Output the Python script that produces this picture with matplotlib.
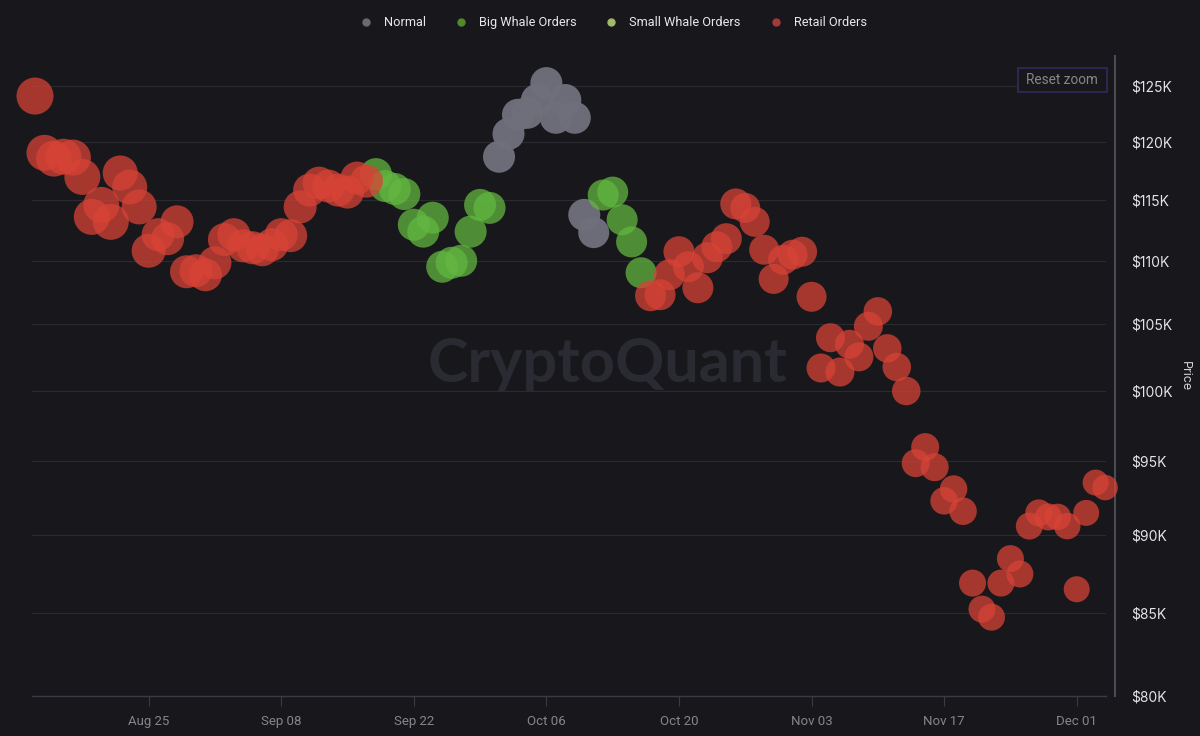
import matplotlib
matplotlib.use("Agg")
import matplotlib.pyplot as plt
import matplotlib.dates as mdates
import numpy as np
import pandas as pd
from matplotlib.patches import FancyBboxPatch

plt.rcParams["font.family"] = ["Inter", "DejaVu Sans"]

bg = "#18181c"

dates = pd.date_range("2025-08-13", periods=114, freq="D")

price = [
    124090, 119040, 118540, 118700, 118630, 116960, 113590, 114590, 113180, 117300,
    116100, 114420, 110810, 112120, 111790, 113180, 109120, 109200, 108880, 109840,
    111720, 112120, 111210, 111050, 110890, 111300, 112120, 112040, 114420, 115840,
    116430, 116180, 115840, 115670, 116860, 116600, 117200, 116180, 115930, 115500,
    112940, 112370, 113520, 109520, 109840, 110000, 112370, 114590, 114340, 118700,
    120700, 122400, 122580, 123730, 125270, 122130, 123730, 122130, 113760, 112290,
    115420, 115670, 113350, 111530, 109040, 107220, 107300, 108880, 110730, 109520,
    107850, 110240, 111130, 111790, 114670, 114340, 113180, 110890, 108550, 110080,
    110490, 110730, 107140, 101700, 103980, 101400, 103480, 102530, 104850, 106000,
    103170, 101770, 100000, 94860, 95980, 94580, 92280, 93080, 91580, 86890,
    85250, 84750, 86890, 88460, 87470, 90590, 91470, 91200, 91200, 90590,
    86500, 91470, 93520, 93180,
]

bubble = [
    37, 36, 36, 36, 36, 36, 36, 36, 36, 35,
    35, 35, 34, 33, 33, 33, 33, 33, 33, 33,
    33, 33, 33, 33, 33, 33, 33, 33, 33, 33,
    33, 33, 33, 33, 33, 33, 32, 32, 32, 32,
    32, 32, 32, 32, 32, 32, 32, 32, 32, 32,
    32, 32, 32, 32, 32, 32, 32, 32, 32, 31,
    31, 31, 31, 31, 31, 31, 31, 31, 31, 31,
    31, 31, 31, 31, 31, 30, 30, 30, 30, 30,
    30, 30, 30, 29, 29, 29, 29, 29, 29, 28.5,
    28.5, 28.5, 28.5, 28, 28, 28, 27.5, 27.5, 27.5, 27,
    27, 27, 27, 27, 27, 27, 27, 27, 26.5, 26.5,
    26, 26, 26, 25.5,
]

order_type = ["Retail Orders"] * 36 + ["Big Whale Orders"] * 13 + ["Normal"] * 11 \
    + ["Big Whale Orders"] * 5 + ["Retail Orders"] * 49

legend_names = ["Normal", "Big Whale Orders", "Small Whale Orders", "Retail Orders"]
point_colors = ["#70707d", "#62b740", "#a6bd6e", "#d84236"]
point_alpha = [0.97, 0.74, 0.74, 0.74]
legend_colors = ["#6a6a70", "#4f8a2d", "#a3b86c", "#a8383a"]

price_ticks = [80000, 85000, 90000, 95000, 100000, 105000, 110000, 115000, 120000, 125000]
date_ticks = ["2025-08-25", "2025-09-08", "2025-09-22", "2025-10-06", "2025-10-20",
              "2025-11-03", "2025-11-17", "2025-12-01"]

fig = plt.figure(figsize=(12, 7.36), dpi=100, facecolor=bg)
ax = fig.add_axes([32 / 1200, 1 - 696 / 736, (1106 - 32) / 1200, (696 - 56) / 736], facecolor=bg)

df = pd.DataFrame({"date": dates, "price": price, "bubble": bubble, "type": order_type})

for name, col, alpha in zip(legend_names, point_colors, point_alpha):
    part = df[df["type"] == name]
    # bubble is the diameter in px, scatter wants points^2
    ax.scatter(part["date"], part["price"], s=(part["bubble"] * 0.72) ** 2, color=col,
               alpha=alpha, linewidths=0, clip_on=False, zorder=3)

ax.set_yscale("log")
ax.set_ylim(80000, 127780)
x0 = mdates.date2num(dates[0])
ax.set_xlim(x0 - 3 / 9.47, x0 + 1071 / 9.47)

ax.set_yticks(price_ticks)
ax.set_yticklabels(["$" + str(p // 1000) + "K" for p in price_ticks])
ax.minorticks_off()
ax.yaxis.tick_right()
ax.tick_params(axis="y", length=0, pad=11.5, labelsize=10, labelcolor="#e4e4e6")
ax.set_xticks(pd.to_datetime(date_ticks))
ax.set_xticklabels([pd.Timestamp(d).strftime("%b %d") for d in date_ticks], family="Roboto")
ax.tick_params(axis="x", length=7, width=0.8, color="#3a3a42", pad=7, labelsize=9.5, labelcolor="#85858c")

ax.grid(axis="y", color="#2a2a30", linewidth=0.8, zorder=0)
ax.set_axisbelow(True)

for s in ["top", "left"]:
    ax.spines[s].set_visible(False)
ax.spines["bottom"].set_color("#3a3a42")
ax.spines["bottom"].set_linewidth(1)
ax.spines["right"].set_position(("outward", 6.5))
ax.spines["right"].set_color("#4b4b55")
ax.spines["right"].set_linewidth(1.5)

fig.text(608 / 1200, 1 - 364 / 736, "CryptoQuant", ha="center", va="center", fontsize=44,
         family="Lato", weight="bold", color="#2a2b32", zorder=1)
fig.text(1185 / 1200, 1 - 376 / 736, "Price", rotation=-90, ha="center", va="center",
         fontsize=9, color="#d4d4d6")

# legend, the small whale series has no points so handles are made by hand
handles = [plt.Line2D([], [], linestyle="", marker="o", markersize=5, color=c) for c in legend_colors]
fig.legend(handles, legend_names, loc="center", bbox_to_anchor=(611.5 / 1200, 1 - 22.5 / 736), ncol=4,
           frameon=False, prop={"family": "Roboto", "size": 9.2}, labelcolor="#e8e8ea",
           handletextpad=0.65, columnspacing=2.0, handlelength=1.5)

fig.add_artist(FancyBboxPatch((1018 / 1200, 1 - 92 / 736), 89 / 1200, 24 / 736,
                              boxstyle="square,pad=0", transform=fig.transFigure,
                              facecolor=bg, edgecolor="#2f2b5e", linewidth=1.2))
fig.text(1062 / 1200, 1 - 80.5 / 736, "Reset zoom", ha="center", va="center",
         fontsize=9.8, family="Roboto", color="#85858c")

fig.savefig("out.png", dpi=100, facecolor=bg)
